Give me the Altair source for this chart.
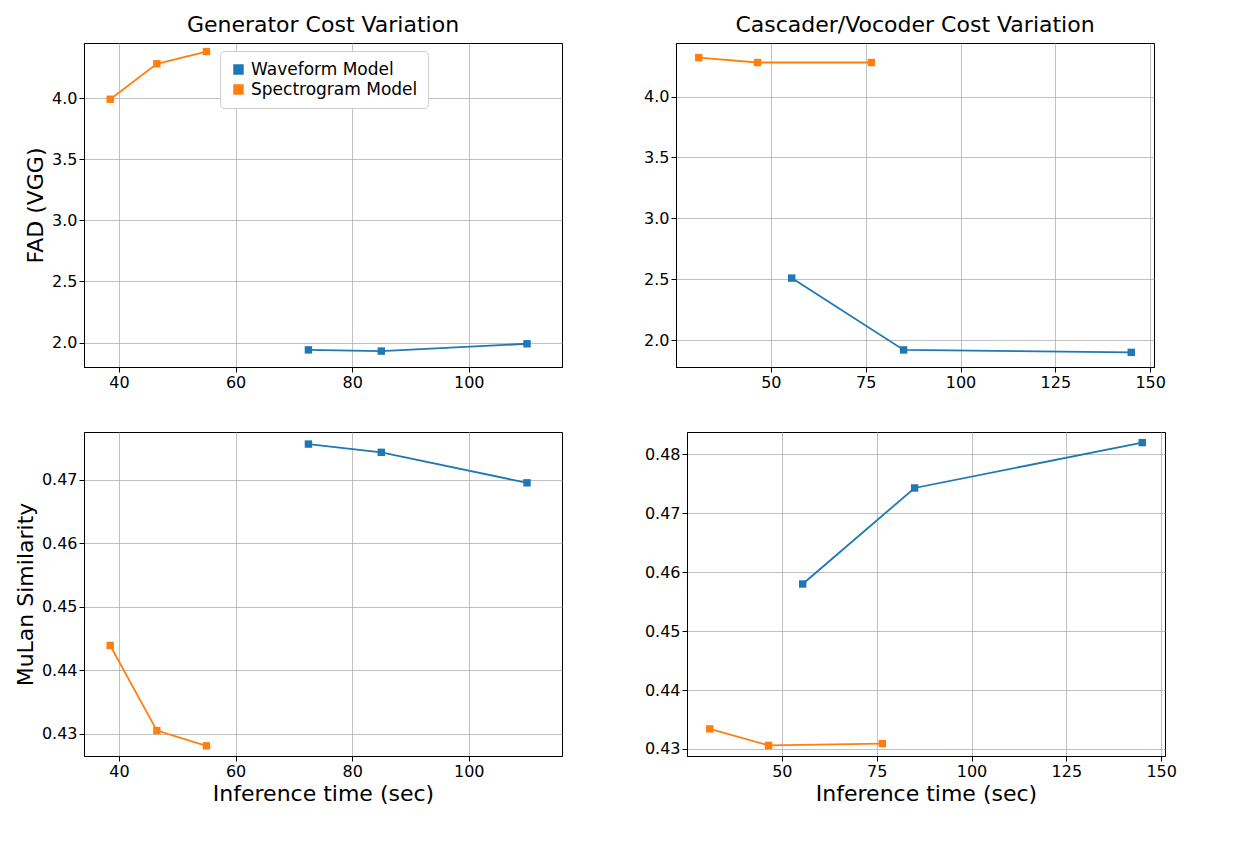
import pandas as pd
import altair as alt

series = ["Waveform Model", "Spectrogram Model"]
colors = ["#1f77b4", "#ff7f0e"]

gen_wave_x = [72.5, 85, 110]
gen_spec_x = [38.5, 46.5, 55]
cas_wave_x = [55.5, 85, 145]
cas_spec_x = [31, 46.5, 76.5]

gen_wave_fad = [1.94, 1.93, 1.99]
gen_spec_fad = [3.99, 4.28, 4.38]
cas_wave_fad = [2.51, 1.92, 1.90]
cas_spec_fad = [4.32, 4.28, 4.28]

gen_wave_mulan = [0.4756, 0.4743, 0.4695]
gen_spec_mulan = [0.4439, 0.4305, 0.4281]
cas_wave_mulan = [0.4580, 0.4743, 0.4820]
cas_spec_mulan = [0.4334, 0.4306, 0.4309]


def frame(wx, wy, sx, sy):
    rows = [{"x": x, "y": y, "Model": series[0]} for x, y in zip(wx, wy)]
    rows += [{"x": x, "y": y, "Model": series[1]} for x, y in zip(sx, sy)]
    return pd.DataFrame(rows)


def panel(data, xdom, xticks, ydom, yticks, yfmt, title="", ytitle="", xtitle="", legend=False):
    leg = alt.Legend(title=None, orient="none", legendX=136, legendY=8, labelFontSize=17,
                     labelFont="DejaVu Sans", symbolType="square", symbolSize=80,
                     strokeColor="#cccccc", padding=10, cornerRadius=4, fillColor="white",
                     labelLimit=300) if legend else None
    return alt.Chart(data, title=alt.Title(title, fontSize=22, fontWeight="normal", font="DejaVu Sans")).mark_line(
        strokeWidth=1.8,
        point=alt.OverlayMarkDef(shape="square", size=55, filled=True, opacity=1),
    ).encode(
        x=alt.X("x:Q", scale=alt.Scale(domain=xdom, nice=False, zero=False),
                axis=alt.Axis(values=xticks, title=xtitle or None)),
        y=alt.Y("y:Q", scale=alt.Scale(domain=ydom, nice=False, zero=False),
                axis=alt.Axis(values=yticks, format=yfmt, title=ytitle or None)),
        color=alt.Color("Model:N", scale=alt.Scale(domain=series, range=colors), legend=leg),
    ).properties(width=478, height=324)


left_x = [40, 60, 80, 100]
right_x = [50, 75, 100, 125, 150]
fad_ticks = [2.0, 2.5, 3.0, 3.5, 4.0]

tl = panel(frame(gen_wave_x, gen_wave_fad, gen_spec_x, gen_spec_fad), [34, 116], left_x,
           [1.8, 4.45], fad_ticks, ".1f", title="Generator Cost Variation", ytitle="FAD (VGG)", legend=True)
tr = panel(frame(cas_wave_x, cas_wave_fad, cas_spec_x, cas_spec_fad), [25, 151], right_x,
           [1.78, 4.44], fad_ticks, ".1f", title="Cascader/Vocoder Cost Variation")
bl = panel(frame(gen_wave_x, gen_wave_mulan, gen_spec_x, gen_spec_mulan), [34, 116], left_x,
           [0.4265, 0.4775], [0.43, 0.44, 0.45, 0.46, 0.47], ".2f",
           ytitle="MuLan Similarity", xtitle="Inference time (sec)")
br = panel(frame(cas_wave_x, cas_wave_mulan, cas_spec_x, cas_spec_mulan), [25, 151], right_x,
           [0.4288, 0.4838], [0.43, 0.44, 0.45, 0.46, 0.47, 0.48], ".2f",
           xtitle="Inference time (sec)")

chart = alt.vconcat(
    alt.hconcat(tl, tr, spacing=80),
    alt.hconcat(bl, br, spacing=80),
    spacing=40,
).resolve_scale(color="independent").configure_axis(
    grid=True, gridColor="#b0b0b0", gridWidth=0.8,
    domainColor="black", tickColor="black", labelColor="black", titleColor="black",
    labelFont="DejaVu Sans", titleFont="DejaVu Sans", labelFontSize=16, titleFontSize=22,
    titleFontWeight="normal", tickSize=5,
).configure_view(stroke="black", strokeWidth=1).configure_title(offset=6)

chart.save("out.html", embed_options={"renderer": "svg", "actions": False})
